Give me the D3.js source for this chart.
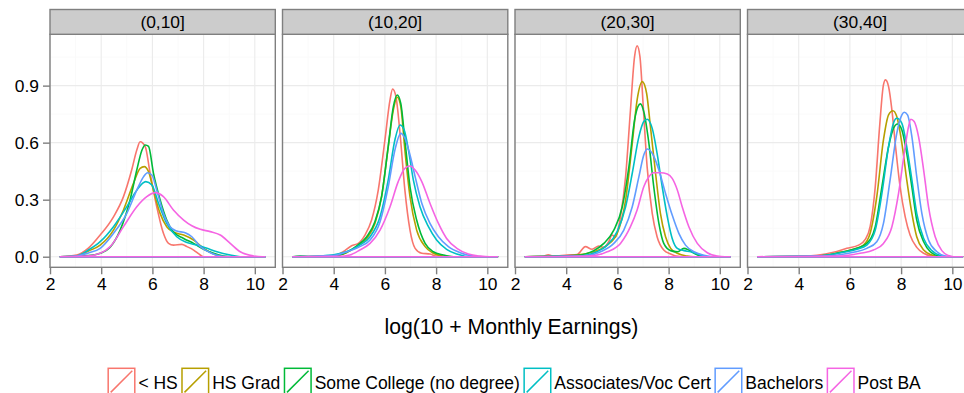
<!DOCTYPE html>
<html>
<head>
<meta charset="utf-8">
<script src="https://cdn.jsdelivr.net/npm/d3@7"></script>
<style>
  body { margin: 0; background: #fff; }
  svg { display: block; }
  text { font-family: "Liberation Sans", Arial, Helvetica, sans-serif; fill: #000; }
</style>
</head>
<body>
<svg id="chart" width="964" height="393"></svg>
<script>
// Facets (age bands) and education groups
const facets = ["(0,10]", "(10,20]", "(20,30]", "(30,40]"];
const groups = ["< HS", "HS Grad", "Some College (no degree)", "Associates/Voc Cert", "Bachelors", "Post BA"];
const groupColors = ["#F8766D", "#B79F00", "#00BA38", "#00BFC4", "#619CFF", "#F564E3"];
const xTicks = [2, 4, 6, 8, 10];
const xMinor = [3, 5, 7, 9];
const yTicks = [0, 0.3, 0.6, 0.9];
const yMinor = [0.15, 0.45, 0.75, 1.05];
const xTitle = "log(10 + Monthly Earnings)";

// Density estimates: one list of [log earnings, density] per facet
const lessHS = [
  [[2.4,0],[3.04,0.009],[3.5,0.045],[3.96,0.114],[4.48,0.21],[4.87,0.316],[5.19,0.456],[5.39,0.561],[5.52,0.605],[5.72,0.579],[5.91,0.439],[6.17,0.263],[6.43,0.123],[6.63,0.07],[6.82,0.061],[7.15,0.065],[7.35,0.053],[7.61,0.035],[7.87,0.009],[8.0,0],[10.4,0]],
  [[2.4,0],[3.98,0.004],[4.37,0.026],[4.7,0.058],[4.96,0.07],[5.22,0.114],[5.48,0.193],[5.74,0.35],[6.0,0.614],[6.2,0.825],[6.3,0.882],[6.43,0.842],[6.59,0.649],[6.78,0.35],[6.98,0.14],[7.18,0.044],[7.44,0.018],[7.76,0.014],[8.02,0.002],[8.2,0],[10.4,0]],
  [[2.4,0],[3.1,0.002],[3.3,0.01],[3.5,0.002],[4.03,0.009],[4.43,0.012],[4.75,0.053],[5.01,0.039],[5.27,0.056],[5.47,0.049],[5.66,0.079],[5.79,0.114],[5.92,0.102],[6.12,0.21],[6.32,0.421],[6.51,0.772],[6.67,1.053],[6.77,1.109],[6.88,1.053],[7.01,0.789],[7.16,0.474],[7.36,0.228],[7.55,0.105],[7.81,0.035],[8.08,0.014],[8.3,0.003],[8.6,0],[10.4,0]],
  [[2.4,0],[4.0,0.001],[4.71,0.007],[5.36,0.023],[5.88,0.044],[6.34,0.061],[6.6,0.091],[6.79,0.158],[6.99,0.368],[7.16,0.684],[7.31,0.904],[7.39,0.93],[7.51,0.895],[7.64,0.772],[7.77,0.596],[7.96,0.368],[8.16,0.21],[8.35,0.114],[8.61,0.049],[8.88,0.018],[9.2,0.003],[9.4,0],[10.4,0]]
];
const hsGrad = [
  [[2.4,0],[3.04,0.004],[3.5,0.03],[3.96,0.061],[4.48,0.14],[4.87,0.246],[5.26,0.386],[5.52,0.465],[5.68,0.474],[5.85,0.447],[6.04,0.35],[6.3,0.228],[6.56,0.158],[6.82,0.13],[7.22,0.114],[7.61,0.088],[8.0,0.044],[8.39,0.014],[8.78,0],[10.4,0]],
  [[2.4,0],[3.98,0.003],[4.5,0.021],[4.89,0.053],[5.29,0.096],[5.61,0.175],[5.87,0.316],[6.13,0.579],[6.33,0.772],[6.48,0.839],[6.62,0.79],[6.78,0.561],[6.98,0.316],[7.24,0.14],[7.57,0.053],[7.89,0.018],[8.28,0.003],[8.6,0],[10.4,0]],
  [[2.4,0],[4.0,0.003],[4.43,0.009],[5.08,0.026],[5.6,0.061],[5.99,0.123],[6.32,0.298],[6.58,0.596],[6.77,0.825],[6.97,0.921],[7.14,0.86],[7.29,0.684],[7.49,0.439],[7.68,0.228],[7.88,0.105],[8.08,0.044],[8.34,0.018],[8.73,0.003],[9.0,0],[10.4,0]],
  [[2.4,0],[4.5,0.003],[5.2,0.01],[5.62,0.023],[6.14,0.039],[6.53,0.061],[6.79,0.123],[7.05,0.316],[7.31,0.614],[7.51,0.746],[7.68,0.768],[7.83,0.737],[8.03,0.596],[8.22,0.404],[8.42,0.228],[8.61,0.105],[8.88,0.035],[9.2,0.009],[9.5,0],[10.4,0]]
];
const someCollege = [
  [[2.4,0],[3.5,0.006],[3.96,0.018],[4.35,0.05],[4.74,0.14],[5.13,0.3],[5.39,0.456],[5.59,0.56],[5.72,0.588],[5.85,0.58],[6.04,0.44],[6.3,0.3],[6.56,0.193],[6.82,0.13],[7.22,0.096],[7.61,0.07],[8.0,0.039],[8.39,0.018],[8.78,0.004],[9.1,0],[10.4,0]],
  [[2.4,0],[2.7,0.004],[3.0,0],[3.98,0.003],[4.5,0.023],[4.89,0.056],[5.29,0.105],[5.61,0.184],[5.87,0.316],[6.13,0.579],[6.33,0.79],[6.48,0.851],[6.62,0.807],[6.78,0.614],[6.98,0.368],[7.24,0.193],[7.57,0.07],[7.89,0.026],[8.28,0.009],[8.68,0],[10.4,0]],
  [[2.4,0],[4.4,0.007],[5.08,0.032],[5.47,0.07],[5.86,0.14],[6.19,0.263],[6.45,0.474],[6.67,0.719],[6.8,0.789],[6.9,0.804],[7.03,0.763],[7.23,0.596],[7.42,0.368],[7.62,0.175],[7.81,0.07],[8.08,0.032],[8.34,0.026],[8.6,0.044],[8.79,0.035],[9.05,0.014],[9.38,0],[10.4,0]],
  [[2.4,0],[4.6,0.003],[5.2,0.01],[5.75,0.026],[6.27,0.044],[6.66,0.07],[6.99,0.158],[7.25,0.368],[7.51,0.579],[7.7,0.675],[7.86,0.698],[8.03,0.667],[8.22,0.544],[8.42,0.368],[8.61,0.193],[8.88,0.079],[9.14,0.026],[9.46,0.004],[9.7,0],[10.4,0]]
];
const associates = [
  [[2.4,0],[3.04,0.004],[3.5,0.035],[3.96,0.079],[4.48,0.158],[5.0,0.263],[5.39,0.35],[5.74,0.395],[5.98,0.377],[6.24,0.28],[6.56,0.175],[6.95,0.105],[7.35,0.075],[7.74,0.061],[8.13,0.044],[8.52,0.026],[9.04,0.009],[9.43,0],[10.4,0]],
  [[2.4,0],[3.5,0.004],[4.0,0.01],[4.5,0.026],[5.02,0.061],[5.42,0.105],[5.81,0.21],[6.13,0.404],[6.39,0.614],[6.59,0.693],[6.75,0.667],[6.92,0.561],[7.11,0.404],[7.37,0.263],[7.7,0.158],[8.02,0.088],[8.41,0.039],[8.81,0.014],[9.33,0],[10.4,0]],
  [[2.4,0],[4.6,0.005],[5.2,0.026],[5.6,0.061],[5.99,0.132],[6.32,0.263],[6.58,0.439],[6.84,0.632],[7.03,0.711],[7.16,0.723],[7.36,0.675],[7.55,0.544],[7.75,0.368],[7.95,0.21],[8.14,0.096],[8.34,0.044],[8.6,0.032],[8.86,0.026],[9.12,0.014],[9.51,0],[10.4,0]],
  [[2.4,0],[4.6,0.003],[5.2,0.01],[5.75,0.023],[6.27,0.039],[6.66,0.061],[6.99,0.14],[7.25,0.333],[7.51,0.579],[7.7,0.702],[7.83,0.728],[8.03,0.702],[8.22,0.579],[8.42,0.404],[8.61,0.228],[8.88,0.096],[9.2,0.032],[9.53,0.006],[9.8,0],[10.4,0]]
];
const bachelors = [
  [[2.4,0],[3.04,0.004],[3.5,0.02],[3.96,0.044],[4.48,0.123],[5.0,0.228],[5.39,0.35],[5.65,0.42],[5.81,0.442],[5.98,0.43],[6.17,0.35],[6.43,0.228],[6.69,0.158],[6.95,0.135],[7.28,0.126],[7.54,0.105],[7.87,0.053],[8.26,0.021],[8.65,0.004],[9.0,0],[10.4,0]],
  [[2.4,0],[3.98,0.006],[4.5,0.025],[5.02,0.053],[5.42,0.088],[5.81,0.184],[6.13,0.368],[6.39,0.561],[6.62,0.649],[6.78,0.623],[6.98,0.535],[7.18,0.421],[7.44,0.281],[7.76,0.175],[8.09,0.105],[8.48,0.053],[8.94,0.021],[9.46,0.003],[9.8,0],[10.4,0]],
  [[2.4,0],[4.7,0.004],[5.34,0.026],[5.86,0.07],[6.25,0.14],[6.58,0.263],[6.84,0.421],[7.03,0.535],[7.16,0.567],[7.36,0.544],[7.62,0.456],[7.88,0.333],[8.14,0.219],[8.4,0.123],[8.66,0.061],[8.99,0.026],[9.38,0.007],[9.77,0],[10.4,0]],
  [[2.4,0],[5.0,0.003],[5.6,0.01],[6.14,0.023],[6.66,0.044],[7.05,0.079],[7.31,0.175],[7.57,0.404],[7.83,0.649],[8.03,0.746],[8.12,0.76],[8.25,0.746],[8.42,0.632],[8.61,0.421],[8.81,0.228],[9.07,0.088],[9.4,0.026],[9.72,0.004],[10.0,0],[10.4,0]]
];
const postBA = [
  [[2.4,0],[3.4,0.003],[3.96,0.018],[4.35,0.053],[4.87,0.158],[5.39,0.263],[5.78,0.316],[6.11,0.337],[6.43,0.316],[6.82,0.246],[7.22,0.193],[7.54,0.163],[7.87,0.144],[8.26,0.132],[8.65,0.114],[9.04,0.07],[9.43,0.026],[9.95,0.004],[10.3,0],[10.4,0]],
  [[2.4,0],[4.2,0.002],[4.63,0.009],[5.02,0.035],[5.42,0.07],[5.81,0.14],[6.2,0.263],[6.52,0.395],[6.78,0.465],[6.98,0.477],[7.18,0.456],[7.44,0.395],[7.76,0.281],[8.09,0.175],[8.41,0.096],[8.81,0.044],[9.26,0.014],[9.72,0.003],[10.1,0],[10.4,0]],
  [[2.4,0],[5.0,0.005],[5.6,0.026],[6.12,0.07],[6.51,0.158],[6.77,0.246],[7.03,0.368],[7.23,0.421],[7.42,0.442],[7.68,0.442],[7.95,0.435],[8.14,0.412],[8.34,0.351],[8.53,0.263],[8.79,0.158],[9.12,0.07],[9.51,0.021],[9.9,0.003],[10.2,0],[10.4,0]],
  [[2.4,0],[5.6,0.003],[6.4,0.018],[6.92,0.035],[7.31,0.07],[7.64,0.158],[7.9,0.333],[8.16,0.579],[8.29,0.684],[8.38,0.723],[8.51,0.711],[8.68,0.632],[8.88,0.456],[9.07,0.263],[9.33,0.105],[9.59,0.032],[9.85,0.006],[10.05,0],[10.4,0]]
];
const seriesData = [lessHS, hsGrad, someCollege, associates, bachelors, postBA];

// Layout
const svg = d3.select("#chart");
const panelLeft0 = 50, panelStep = 232.5, panelW = 225.3;
const stripTop = 9.5, stripBottom = 34.3, panelBottom = 267.3;
const tickFont = 17.4, legendFont = 17.5, titleFont = 21.2;
const grey50 = "#7f7f7f";

const y = d3.scaleLinear().domain([-0.0557, 1.17]).range([panelBottom, stripBottom]);

facets.forEach((facet, i) => {
  const left = panelLeft0 + i * panelStep;
  const x = d3.scaleLinear().domain([2.0, 10.8]).range([left, left + panelW]);
  const g = svg.append("g");

  // panel background
  g.append("rect").attr("x", left).attr("y", stripBottom).attr("width", panelW)
    .attr("height", panelBottom - stripBottom).attr("fill", "#fff");

  // minor grid
  g.selectAll(".xm").data(xMinor).join("line")
    .attr("x1", d => x(d)).attr("x2", d => x(d)).attr("y1", stripBottom).attr("y2", panelBottom)
    .attr("stroke", "#fafafa").attr("stroke-width", 1);
  g.selectAll(".ym").data(yMinor).join("line")
    .attr("x1", left).attr("x2", left + panelW).attr("y1", d => y(d)).attr("y2", d => y(d))
    .attr("stroke", "#fafafa").attr("stroke-width", 1);
  // major grid
  g.selectAll(".xM").data(xTicks).join("line")
    .attr("x1", d => x(d)).attr("x2", d => x(d)).attr("y1", stripBottom).attr("y2", panelBottom)
    .attr("stroke", "#ebebeb").attr("stroke-width", 1.1);
  g.selectAll(".yM").data(yTicks).join("line")
    .attr("x1", left).attr("x2", left + panelW).attr("y1", d => y(d)).attr("y2", d => y(d))
    .attr("stroke", "#ebebeb").attr("stroke-width", 1.1);

  // densities
  const line = d3.line().x(d => x(d[0])).y(d => y(d[1])).curve(d3.curveMonotoneX);
  seriesData.forEach((s, k) => {
    g.append("path").attr("d", line(s[i]) + "Z")
      .attr("fill", "none").attr("stroke", groupColors[k]).attr("stroke-width", 1.6)
      .attr("stroke-linejoin", "round");
  });

  // panel border
  g.append("rect").attr("x", left).attr("y", stripBottom).attr("width", panelW)
    .attr("height", panelBottom - stripBottom).attr("fill", "none")
    .attr("stroke", grey50).attr("stroke-width", 1.4);

  // strip
  g.append("rect").attr("x", left).attr("y", stripTop).attr("width", panelW)
    .attr("height", stripBottom - stripTop).attr("fill", "#cccccc")
    .attr("stroke", grey50).attr("stroke-width", 1.4);
  g.append("text").attr("x", left + panelW / 2).attr("y", 28.3)
    .attr("text-anchor", "middle").attr("font-size", tickFont).attr("fill", "#1a1a1a").text(facet);

  // x axis
  const xAxis = d3.axisBottom(x).tickValues(xTicks).tickSize(7).tickPadding(3).tickFormat(d3.format("d"));
  const ax = g.append("g").attr("transform", `translate(0,${panelBottom})`).call(xAxis);
  ax.select(".domain").remove();
  ax.selectAll(".tick line").attr("stroke", grey50).attr("stroke-width", 1.4);
  ax.selectAll(".tick text").attr("font-size", tickFont).attr("fill", "#000")
    .attr("font-family", "Liberation Sans, Arial, sans-serif");

  // y axis on first panel only
  if (i === 0) {
    const yAxis = d3.axisLeft(y).tickValues(yTicks).tickSize(7).tickPadding(4).tickFormat(d3.format(".1f"));
    const ay = g.append("g").attr("transform", `translate(${left},0)`).call(yAxis);
    ay.select(".domain").remove();
    ay.selectAll(".tick line").attr("stroke", grey50).attr("stroke-width", 1.4);
    ay.selectAll(".tick text").attr("font-size", tickFont).attr("fill", "#000")
      .attr("font-family", "Liberation Sans, Arial, sans-serif");
  }
});

// axis title, centred on the facet row
const rowCenter = panelLeft0 + (3 * panelStep + panelW) / 2;
svg.append("text").attr("x", rowCenter).attr("y", 334).attr("text-anchor", "middle")
  .attr("font-size", titleFont).text(xTitle);

// legend
const keySize = 26.6, keyTop = 368.3, textGap = 3.6, itemGap = 4.2;
const legend = svg.append("g");
const items = legend.selectAll("g").data(groups).join("g");
items.append("rect").attr("width", keySize).attr("height", keySize).attr("y", keyTop)
  .attr("fill", "#fff").attr("stroke", (d, k) => groupColors[k]).attr("stroke-width", 1.5);
items.append("line").attr("x1", 2.5).attr("x2", keySize - 2.5)
  .attr("y1", keyTop + keySize - 2.5).attr("y2", keyTop + 2.5)
  .attr("stroke", (d, k) => groupColors[k]).attr("stroke-width", 1.5);
items.append("text").attr("x", keySize + textGap).attr("y", 389.3)
  .attr("font-size", legendFont).text(d => d);

let widths = [];
items.each(function () {
  widths.push(keySize + textGap + d3.select(this).select("text").node().getComputedTextLength());
});
const total = d3.sum(widths) + itemGap * (widths.length - 1);
let cursor = 514.5 - total / 2;
items.each(function (d, k) {
  d3.select(this).attr("transform", `translate(${cursor},0)`);
  d3.select(this).select("rect").attr("x", 0);
  cursor += widths[k] + itemGap;
});
</script>
</body>
</html>
